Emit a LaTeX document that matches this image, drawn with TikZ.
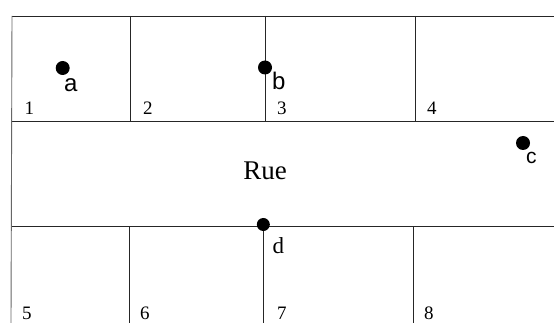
\documentclass[tikz,border=0pt]{standalone}
\usepackage{fontspec}
\setmainfont{Liberation Serif}
\newfontfamily\sansf{Liberation Sans}
\begin{document}
\begin{tikzpicture}[x=1pt,y=-1pt,
  wall/.style={line width=0.9pt,draw=black!85},
  dot/.style={circle,fill=black,inner sep=0pt,minimum size=14pt},
  letter/.style={anchor=base west,inner sep=0pt,font=\sansf\fontsize{24}{24}\selectfont},
  num/.style={anchor=base west,inner sep=0pt,font=\fontsize{19}{19}\selectfont}]
\useasboundingbox (0,0) rectangle (554,323);
\fill[white] (0,0) rectangle (554,323);
% grid of plots and street
\draw[wall] (12,16) -- (554,16);
\draw[wall] (11,121) -- (554,121);
\draw[wall] (11,226) -- (554,226);
\draw[wall,draw=black!60] (12,16) -- (11,323);
\draw[wall] (130,16) -- (130,121);
\draw[wall] (265.5,16) -- (265.5,121);
\draw[wall] (415,16) -- (415,121);
\draw[wall] (129,226) -- (129,323);
\draw[wall] (263.5,226) -- (263.5,323);
\draw[wall] (413,226) -- (413,323);
% points
\node[dot] (pa) at (62.7,68) {};
\node[dot] (pb) at (265,67.5) {};
\node[dot] (pc) at (523,143) {};
\node[dot,minimum size=13pt] (pd) at (263.3,224.5) {};
\node[letter] (la) at (64,92) {a};
\node[letter] (lb) at (272,90) {b};
\node[letter,font=\sansf\fontsize{21}{21}\selectfont] (lc) at (526,164) {c};
\node[anchor=base west,inner sep=0pt,font=\fontsize{23}{23}\selectfont] (ld) at (272.5,253) {d};
\node[anchor=base,inner sep=0pt,font=\fontsize{27}{27}\selectfont] (rue) at (265,180) {Rue};
% plot numbers
\node[num] (n1) at (24.5,115) {1};
\node[num] (n2) at (143,115) {2};
\node[num] (n3) at (277,115) {3};
\node[num] (n4) at (427,115) {4};
\node[num] (n5) at (22,319) {5};
\node[num] (n6) at (140,319) {6};
\node[num] (n7) at (277,319) {7};
\node[num] (n8) at (424,319) {8};
\end{tikzpicture}
\end{document}
